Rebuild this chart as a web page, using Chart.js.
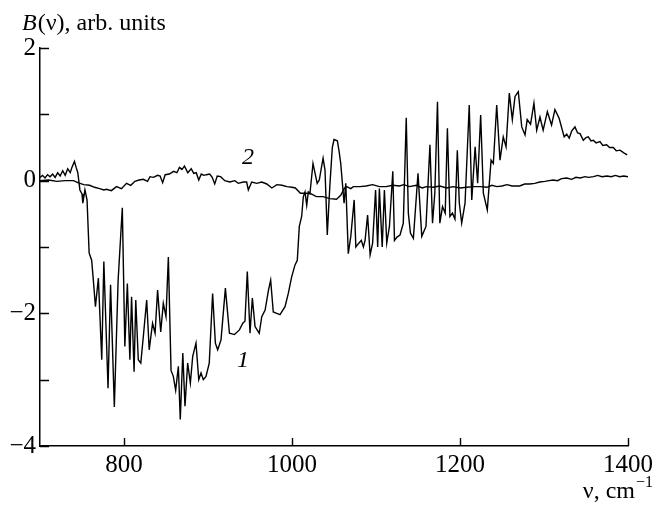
<!DOCTYPE html>
<html lang="en">
<head>
    <meta charset="UTF-8">
    <title>B(ν) spectrum</title>
    <script src="https://cdn.jsdelivr.net/npm/chart.js"></script>
    <style>
        body { margin: 0; background: #fff; }
        #wrap { width: 657px; height: 508px; position: relative; }
    </style>
</head>
<body>
    <div id="wrap"><canvas id="spectrum"></canvas></div>

    <script>
        // curve 1: wavenumber (cm-1) and B(ν)
        const nu1 = [700, 703, 706, 709, 712, 715, 718, 721, 724, 727, 730, 733, 736, 738, 741, 743, 745,
            747.5, 750, 751, 753.5, 756, 758.5, 761.5, 763.5, 766, 769.5, 773.5, 776, 781, 784, 788.5, 793,
            798, 801, 804, 807, 809, 812, 814, 817, 820, 823, 827, 830, 834, 837, 840, 843.7, 846.8, 850,
            852.8, 856, 858.7, 861.5, 864.7, 867, 870, 872.6, 875.8, 879, 881.8, 885.7, 889, 891.7, 894.4,
            897.6, 901.5, 905.5, 908.8, 911.5, 915.5, 920.7, 925.5, 931.5, 937.4, 941.4, 944, 946.8, 950,
            952.8, 956, 961, 964, 968, 972, 974.6, 977.7, 981.8, 985.7, 991.7, 995.6, 999.6, 1003.6, 1006.3,
            1008.7, 1011.5, 1013.5, 1015.5, 1017.5, 1019.4, 1021.4, 1025, 1030, 1032.5, 1034.5, 1037, 1039.3,
            1042, 1045, 1048, 1050, 1054, 1056, 1058, 1062, 1064, 1067, 1070, 1074, 1076, 1079, 1082.5, 1085,
            1087, 1090, 1093, 1096, 1099.5, 1102, 1104, 1107.4, 1110, 1112.8, 1116, 1120, 1122, 1125, 1128.6,
            1132.5, 1136, 1138.5, 1141, 1144.5, 1150, 1154.5, 1159.5, 1164.2, 1167.3, 1170, 1173.2, 1176,
            1179.2, 1182.4, 1185, 1188, 1191, 1194, 1196.8, 1199.2, 1202, 1206, 1211, 1214, 1218, 1221,
            1224.6, 1227.8, 1232.5, 1237, 1239.7, 1243.7, 1247.6, 1251.5, 1254.8, 1258.7, 1262.3, 1265.5,
            1269.4, 1273.5, 1277.4, 1280, 1284, 1288, 1291.3, 1295.2, 1299, 1304, 1309, 1313, 1318, 1324,
            1327, 1330, 1333, 1336.9, 1340, 1342.9, 1346.8, 1350, 1352.7, 1356, 1358.7, 1362, 1366.6, 1370,
            1374.6, 1378, 1382.5, 1386, 1390.5, 1395, 1399];
        const b1 = [0.05, 0.08, 0.04, 0.09, 0.06, 0.1, 0.05, 0.12, 0.07, 0.15, 0.08, 0.18, 0.12, 0.2, 0.29, 0.2, 0.12,
            -0.14, -0.2, -0.34, -0.14, -0.29, -1.09, -1.2, -1.5, -1.9, -1.47, -2.7, -1.22, -3.13, -1.57, -3.41, -1.5,
            -0.41, -2.5, -1.55, -2.7, -1.75, -2.88, -1.8, -2.7, -2.75, -2.35, -1.8, -2.55, -2.15, -2.3, -1.65, -2.28, -1.85, -2.05,
            -1.15, -2.86, -2.95, -3.16, -2.8, -3.6, -2.6, -3.4, -2.75, -3.05, -2.65, -2.45, -3.0, -2.9, -3.0,
            -2.95, -2.75, -1.7, -2.45, -2.55, -2.4, -1.62, -2.3, -2.32, -2.25, -2.15, -2.12, -1.37, -2.3,
            -1.77, -2.2, -2.3, -2.05, -1.95, -1.65, -1.5, -1.98, -2.0, -2.02, -1.9, -1.7, -1.45, -1.27, -1.2,
            -0.69, -0.54, -0.24, -0.17, -0.37, -0.17, -0.19, 0.26, -0.04, 0.01, 0.16, 0.34, 0.16,
            -0.82, -0.09, 0.5, 0.62, 0.6, 0.45, 0.26, -0.34, -0.04, -1.1, -0.84, -0.29, -1.0, -0.95, -0.9, -1.0,
            -0.9, -0.52, -1.12, -0.94, -0.14, -1.0, -0.12, -1.0, -0.14, -0.94, -0.69, 0.14, -0.9, -0.85, -0.82,
            -0.64, 0.95, -0.49, -0.79, -0.87, 0.11, -0.84, -0.69, 0.54, -0.64, -0.19, 1.19, -0.64,
            -0.39, -0.49, 0.79, -0.54, -0.49, -0.58, 0.46, -0.34, -0.64, -0.34, 1.14, -0.29, 0.51, -0.04,
            0.99, -0.19, -0.44, 0.31, 0.26, 1.14, 0.31, 0.66, 0.51, 1.32, 0.92, 1.27,
            1.34, 0.81, 0.69, 0.92, 0.85, 1.17, 0.76, 0.96, 0.76, 1.04, 0.84, 1.07, 0.94, 0.66,
            0.7, 0.64, 0.75, 0.81, 0.72, 0.71, 0.61, 0.65, 0.66, 0.6, 0.61, 0.57, 0.59, 0.53,
            0.54, 0.5, 0.5, 0.45, 0.46, 0.42, 0.39];

        // curve 2
        const nu2 = [700, 710, 720, 730, 740, 745, 752, 759, 765, 771, 776, 779, 785, 791, 797, 803, 808, 813, 818,
            823, 828, 831, 835, 840, 843, 846, 849, 854, 859, 863, 866, 869, 872, 876, 880, 883, 886, 889, 892,
            895, 898, 902, 905, 908, 911, 915, 920, 926, 932, 936, 942, 946, 948, 952, 958, 964, 970, 976, 982,
            988, 994, 1000, 1004, 1010, 1017, 1023, 1029, 1037, 1045, 1053, 1058, 1062, 1065, 1070, 1073, 1081,
            1088, 1096, 1104, 1112, 1120, 1128, 1133, 1140, 1148, 1155, 1160, 1168, 1176, 1184, 1192, 1200,
            1208, 1216, 1224, 1232, 1238, 1244, 1250, 1256, 1262, 1271, 1277, 1283, 1289, 1295, 1301, 1306,
            1311, 1316, 1321, 1327, 1333, 1338, 1343, 1349, 1353, 1359, 1364, 1369, 1375, 1380, 1385, 1390,
            1395, 1400];
        const b2 = [0.0, 0.01, -0.01, 0.0, 0.0, -0.03, -0.06, -0.07, -0.1, -0.12, -0.14, -0.13, -0.15, -0.09, -0.12, -0.04, -0.07, -0.01, 0.01,
            0.02, -0.01, 0.06, 0.05, 0.08, 0.07, -0.03, 0.09, 0.1, 0.14, 0.12, 0.2, 0.17, 0.22, 0.12, 0.18, 0.11, 0.12, 0.01, 0.1,
            0.08, 0.09, 0.1, 0.05, -0.05, 0.07, 0.06, 0.0, -0.02, 0.0, -0.04, -0.02, -0.02, -0.14, -0.02, -0.04, -0.02, -0.05, -0.11, -0.06,
            -0.07, -0.09, -0.1, -0.11, -0.19, -0.19, -0.2, -0.24, -0.24, -0.27, -0.28, -0.22, -0.12, -0.09, -0.12, -0.09, -0.09,
            -0.08, -0.06, -0.09, -0.09, -0.07, -0.08, -0.06, -0.09, -0.07, -0.11, -0.09, -0.1, -0.08, -0.11, -0.09, -0.11,
            -0.1, -0.09, -0.09, -0.1, -0.07, -0.09, -0.08, -0.06, -0.08, -0.08, -0.05, -0.05, -0.04, -0.02, -0.01, 0.0,
            0.01, 0.0, 0.03, 0.04, 0.02, 0.05, 0.04, 0.06, 0.05, 0.06, 0.08, 0.06, 0.07, 0.06, 0.08, 0.06,
            0.07, 0.06];

        const xTicks = [800, 1000, 1200, 1400];
        const yTicks = [-4, -3, -2, -1, 0, 1, 2];
        const yLabelled = [-4, -2, 0, 2];

        const serif = "'Liberation Serif', 'DejaVu Serif', serif";

        function toPoints(xs, ys) {
            return xs.map((x, i) => ({ x: x, y: ys[i] }));
        }

        // inward tick marks, axis titles and curve numbers
        const decor = {
            id: 'decor',
            afterDraw(chart) {
                const ctx = chart.ctx;
                const xs = chart.scales.x, ys = chart.scales.y;
                const area = chart.chartArea;
                ctx.save();
                ctx.strokeStyle = '#000';
                ctx.lineWidth = 1.4;
                ctx.beginPath();
                yTicks.forEach(v => {
                    const py = Math.round(ys.getPixelForValue(v)) + 0.5;
                    ctx.moveTo(area.left, py);
                    ctx.lineTo(area.left + 9, py);
                });
                xTicks.forEach(v => {
                    const px = Math.round(xs.getPixelForValue(v)) + 0.5;
                    ctx.moveTo(px, area.bottom);
                    ctx.lineTo(px, area.bottom - 8);
                });
                ctx.stroke();

                ctx.fillStyle = '#000';
                ctx.textBaseline = 'alphabetic';
                // y title
                ctx.textAlign = 'left';
                ctx.font = 'italic 24px ' + serif;
                ctx.fillText('B', 22, 30);
                const wB = ctx.measureText('B').width;
                ctx.font = '24px ' + serif;
                ctx.fillText('(ν), arb. units', 22 + wB + 1, 30);

                // x title
                ctx.font = '16px ' + serif;
                const wSup = ctx.measureText('−1').width;
                ctx.textAlign = 'right';
                ctx.fillText('−1', 653, 487);
                ctx.font = '24px ' + serif;
                ctx.fillText('ν, cm', 653 - wSup - 1, 498);

                // curve numbers
                ctx.textAlign = 'center';
                ctx.font = 'italic 24px ' + serif;
                ctx.fillText('2', 248, 164);
                ctx.fillText('1', 243, 367);
                ctx.restore();
            }
        };

        new Chart(document.getElementById('spectrum').getContext('2d'), {
            type: 'scatter',
            data: {
                datasets: [
                    { label: '1', data: toPoints(nu1, b1) },
                    { label: '2', data: toPoints(nu2, b2) }
                ]
            },
            options: {
                responsive: true,
                maintainAspectRatio: false,
                animation: false,
                showLine: true,
                elements: {
                    point: { radius: 0 },
                    line: { borderColor: '#000', borderWidth: 1.4, tension: 0, fill: false }
                },
                layout: { padding: { left: 0, right: 29, top: 48, bottom: 0 } },
                plugins: { legend: { display: false }, tooltip: { enabled: false } },
                scales: {
                    x: {
                        type: 'linear',
                        min: 700,
                        max: 1400,
                        afterBuildTicks: s => { s.ticks = xTicks.map(v => ({ value: v })); },
                        afterFit: s => { s.height = 62; },
                        grid: { display: false, drawTicks: false },
                        border: { display: true, color: '#000', width: 1.5 },
                        ticks: {
                            padding: 4,
                            color: '#000',
                            font: { family: serif, size: 25 },
                            maxRotation: 0,
                            callback: v => String(v)
                        }
                    },
                    y: {
                        type: 'linear',
                        min: -4,
                        max: 2,
                        afterBuildTicks: s => { s.ticks = yTicks.map(v => ({ value: v })); },
                        afterFit: s => { s.width = 40; },
                        grid: { display: false, drawTicks: false },
                        border: { display: true, color: '#000', width: 1.5 },
                        ticks: {
                            padding: 4,
                            color: '#000',
                            font: { family: serif, size: 25 },
                            callback: v => yLabelled.includes(v) ? (v < 0 ? '\u2212' + Math.abs(v) : String(v)) : ''
                        }
                    }
                }
            },
            plugins: [decor]
        });
    </script>
</body>
</html>
